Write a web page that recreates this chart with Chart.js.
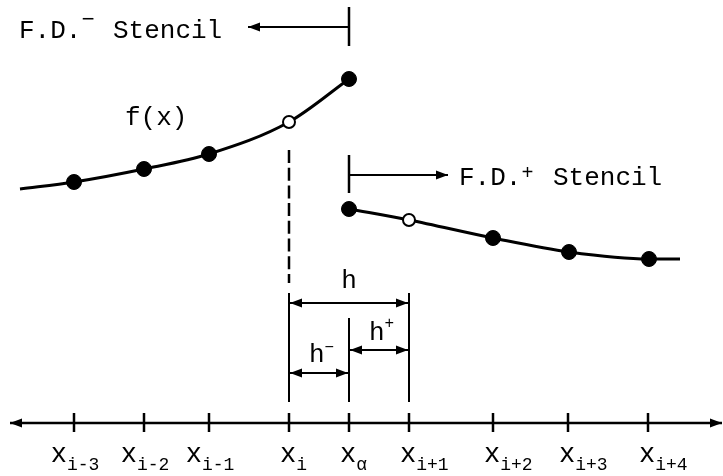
<!DOCTYPE html>
<html>
<head>
<meta charset="utf-8">
<script src="https://cdn.jsdelivr.net/npm/chart.js@4.4.0/dist/chart.umd.min.js"></script>
<style>
  html, body { margin: 0; padding: 0; background: #fff; }
  canvas { display: block; }
</style>
</head>
<body>
<canvas id="stencilChart" width="723" height="476"></canvas>
<script>
// grid nodes on the x axis
const nodeSubs = ['i-3', 'i-2', 'i-1', 'i', 'α', 'i+1', 'i+2', 'i+3', 'i+4'];
const nodeX = [0.74, 1.44, 2.09, 2.89, 3.49, 4.09, 4.93, 5.68, 6.48];

// f(x) left of the interface x_alpha
const leftX = [0.20, 0.74, 1.44, 2.09, 2.89, 3.49];
const leftF = [2.34, 2.41, 2.54, 2.69, 3.01, 3.44];
const leftMarks = ['none', 'filled', 'filled', 'filled', 'open', 'filled'];

// f(x) right of the interface
const rightX = [3.49, 4.09, 4.93, 5.69, 6.49, 6.80];
const rightF = [2.14, 2.03, 1.85, 1.71, 1.64, 1.64];
const rightMarks = ['filled', 'open', 'filled', 'filled', 'filled', 'none'];

const MONO = '"Liberation Mono", "DejaVu Sans Mono", monospace';

function toPoints(xs, ys) {
    return xs.map((x, i) => ({ x: x, y: ys[i] }));
}

function curveDataset(xs, ys, marks) {
    return {
        data: toPoints(xs, ys),
        borderColor: '#000',
        borderWidth: 3,
        cubicInterpolationMode: 'monotone',
        fill: false,
        clip: false,
        pointRadius: ctx => marks[ctx.dataIndex] === 'none' ? 0 : (marks[ctx.dataIndex] === 'open' ? 6 : 7.5),
        pointBackgroundColor: ctx => marks[ctx.dataIndex] === 'open' ? '#fff' : '#000',
        pointBorderColor: '#000',
        pointBorderWidth: ctx => marks[ctx.dataIndex] === 'open' ? 2 : 1
    };
}

// filled arrow head at (x2, y2) pointing away from (x1, y1)
function arrowHead(ctx, x1, y1, x2, y2, len, half) {
    const a = Math.atan2(y2 - y1, x2 - x1);
    ctx.beginPath();
    ctx.moveTo(x2, y2);
    ctx.lineTo(x2 - len * Math.cos(a) + half * Math.sin(a), y2 - len * Math.sin(a) - half * Math.cos(a));
    ctx.lineTo(x2 - len * Math.cos(a) - half * Math.sin(a), y2 - len * Math.sin(a) + half * Math.cos(a));
    ctx.closePath();
    ctx.fill();
}

function line(ctx, x1, y1, x2, y2) {
    ctx.beginPath();
    ctx.moveTo(x1, y1);
    ctx.lineTo(x2, y2);
    ctx.stroke();
}

function arrow(ctx, x1, y1, x2, y2, both) {
    line(ctx, x1, y1, x2, y2);
    arrowHead(ctx, x1, y1, x2, y2, 12, 4.5);
    if (both) arrowHead(ctx, x2, y2, x1, y1, 12, 4.5);
}

// base text followed by a raised / lowered smaller text
function textWithScript(ctx, x, y, base, baseSize, script, scriptSize, dy) {
    ctx.font = baseSize + 'px ' + MONO;
    ctx.fillText(base, x, y);
    const w = ctx.measureText(base).width;
    ctx.font = scriptSize + 'px ' + MONO;
    ctx.fillText(script, x + w, y + dy);
    return x + w + ctx.measureText(script).width;
}

const diagramPlugin = {
    id: 'diagram',
    afterDraw(chart) {
        const ctx = chart.ctx;
        const px = v => chart.scales.x.getPixelForValue(v);
        const py = v => chart.scales.y.getPixelForValue(v);
        ctx.save();
        ctx.strokeStyle = '#000';
        ctx.fillStyle = '#000';
        ctx.lineCap = 'butt';
        ctx.textAlign = 'left';
        ctx.textBaseline = 'alphabetic';

        // x axis with arrows at both ends
        const y0 = py(0);
        ctx.lineWidth = 2.5;
        arrow(ctx, px(0.10), y0, px(7.22), y0, true);
        nodeX.forEach(v => line(ctx, px(v), y0 - 10, px(v), y0 + 9));

        // node labels
        nodeSubs.forEach((s, i) => {
            ctx.font = '27px ' + MONO;
            const wx = ctx.measureText('x').width;
            ctx.font = '18px ' + MONO;
            const ws = ctx.measureText(s).width;
            const start = i < 3 ? px(nodeX[i]) - (wx + ws) / 2 + 1 : px(nodeX[i]) - 9;
            textWithScript(ctx, start, 462, 'x', 27, s, 18, 8);
        });

        // dashed line below x_i
        const xi = px(nodeX[3]), xa = px(nodeX[4]), xp = px(nodeX[5]);
        ctx.lineWidth = 2.5;
        ctx.setLineDash([13, 4.7]);
        line(ctx, xi, py(2.73), xi, py(1.40));
        ctx.setLineDash([]);

        // dimension lines h, h-, h+
        ctx.lineWidth = 2;
        line(ctx, xi, py(1.30), xi, py(0.21));
        line(ctx, xp, py(1.30), xp, py(0.21));
        line(ctx, xa, py(1.05), xa, py(0.21));
        arrow(ctx, xi + 1, py(1.20), xp - 1, py(1.20), true);
        arrow(ctx, xa + 1, py(0.73), xp - 1, py(0.73), true);
        arrow(ctx, xi + 1, py(0.50), xa - 1, py(0.50), true);

        ctx.font = '26px ' + MONO;
        ctx.textAlign = 'center';
        ctx.fillText('h', (xi + xp) / 2, 288);
        ctx.textAlign = 'left';
        textWithScript(ctx, 309, 362, 'h', 26, '−', 16, -10);
        textWithScript(ctx, 369, 340, 'h', 26, '+', 16, -12);

        // F.D.- stencil marker
        ctx.lineWidth = 2.5;
        line(ctx, xa, py(4.16), xa, py(3.77));
        ctx.lineWidth = 2;
        arrow(ctx, xa, py(3.96), px(2.48), py(3.96), false);
        textWithScript(ctx, 19, 38, 'F.D.', 26, '−', 22, -12);
        ctx.font = '26px ' + MONO;
        ctx.fillText('Stencil', 113, 38);

        // F.D.+ stencil marker
        ctx.lineWidth = 2.5;
        line(ctx, xa, py(2.68), xa, py(2.30));
        ctx.lineWidth = 2;
        arrow(ctx, xa, py(2.48), px(4.48), py(2.48), false);
        textWithScript(ctx, 459, 185, 'F.D.', 26, '+', 20, -6);
        ctx.font = '26px ' + MONO;
        ctx.fillText('Stencil', 553, 185);

        // curve label
        ctx.fillText('f(x)', 125, 125);
        ctx.restore();
    }
};

new Chart(document.getElementById('stencilChart'), {
    type: 'line',
    data: {
        datasets: [
            curveDataset(leftX, leftF, leftMarks),
            curveDataset(rightX, rightF, rightMarks)
        ]
    },
    options: {
        responsive: false,
        animation: false,
        devicePixelRatio: 1,
        events: [],
        layout: { padding: 0, autoPadding: false },
        plugins: {
            legend: { display: false },
            tooltip: { enabled: false }
        },
        scales: {
            x: { type: 'linear', min: 0, max: 7.23, display: false },
            y: { type: 'linear', min: -0.53, max: 4.23, display: false }
        }
    },
    plugins: [diagramPlugin]
});
</script>
</body>
</html>
